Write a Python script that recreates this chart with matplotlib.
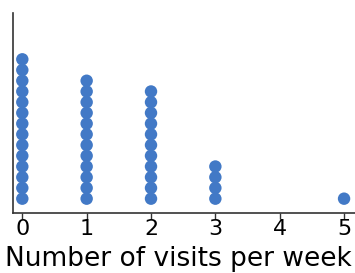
import matplotlib
matplotlib.use("Agg")
import matplotlib.pyplot as plt

visits = [0, 1, 2, 3, 4, 5]
counts = [14, 12, 11, 4, 0, 1]
tick_labels = ["0", "1", "2", "3", "4", "5"]
xlabel = "Number of visits per week"

fig = plt.figure(figsize=(3.55, 2.73), dpi=100)
ax = fig.add_axes([0.038, 0.2216, 0.962, 0.7308])

for v, c in zip(visits, counts):
    ax.scatter([v] * c, list(range(c)), s=80, color="#4279c6", edgecolors="none", zorder=3)

ax.set_xlim(-0.137, 5.17)
ax.set_ylim(-1.29, 17.32)
ax.set_xticks(visits)
ax.set_xticklabels(tick_labels, fontsize=16, family="DejaVu Sans")
ax.set_yticks([])
ax.set_xlabel(xlabel, fontsize=19, family="DejaVu Sans")
ax.xaxis.set_label_coords(0.483, -0.17, transform=ax.transAxes)
ax.xaxis.label.set_va("top")
for s in ["top", "right"]:
    ax.spines[s].set_visible(False)
for s in ["left", "bottom"]:
    ax.spines[s].set_color("#333333")
    ax.spines[s].set_linewidth(1.2)
ax.tick_params(axis="x", length=4, width=1, color="#333333", pad=1, labelcolor="black")

fig.savefig("out.png", dpi=100)
